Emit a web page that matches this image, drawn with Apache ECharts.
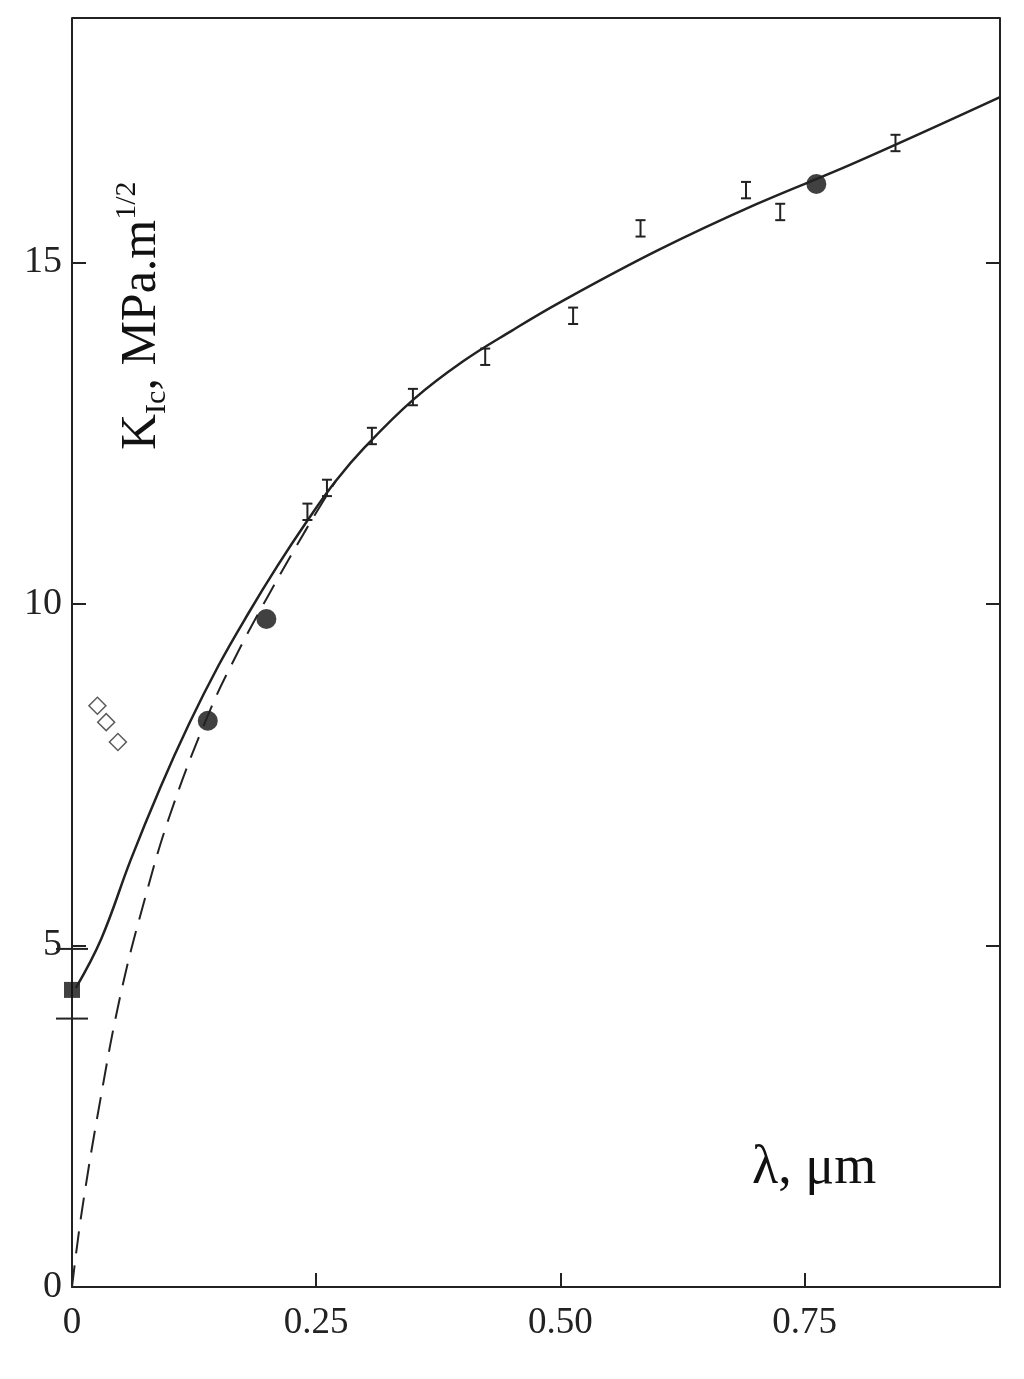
<!DOCTYPE html><html><head><meta charset="utf-8"><script src="https://cdn.jsdelivr.net/npm/echarts@6/dist/echarts.min.js"></script>
<style>html,body{margin:0;background:#fff}#c{width:1024px;height:1379px}</style></head><body><div id="c"></div><script>
const xTicks=[0,0.25,0.5,0.75];
const yTicks=[0,5,10,15];
const solidCurve=[[0.004,4.38],[0.03,5.1],[0.06,6.25],[0.09,7.3],[0.12,8.25],[0.15,9.1],[0.18,9.85],[0.21,10.55],[0.24,11.2],[0.27,11.8],[0.30,12.3],[0.35,13.0],[0.40,13.55],[0.45,14.0],[0.50,14.42],[0.60,15.18],[0.70,15.85],[0.80,16.45],[0.95,17.42]];
const dashedCurve=[[0,0],[0.01,1.1],[0.029,2.74],[0.05,4.3],[0.073,5.6],[0.10,6.9],[0.14,8.4],[0.17,9.3],[0.20,10.1],[0.24,11.1],[0.27,11.8]];
const squarePt=[[0.0,4.35]];
const squareErr=[[0.0,3.93,4.95]];
const openSquares=[[0.026,8.51],[0.035,8.27],[0.047,7.98]];
const circles=[[0.139,8.29],[0.199,9.78],[0.762,16.15]];
const errPts=[[0.241,11.35],[0.261,11.70],[0.307,12.46],[0.349,13.03],[0.423,13.62],[0.513,14.22],[0.582,15.5],[0.690,16.06],[0.725,15.74],[0.843,16.75]];
const errHalf=0.12;
const F='Liberation Serif';
const ch=echarts.init(document.getElementById('c'));
function errItem(p,api){const x=api.value(0),lo=api.value(1),hi=api.value(2);const a=api.coord([x,lo]),b=api.coord([x,hi]);const w=api.value(3);
return{type:'group',children:[{type:'line',shape:{x1:a[0],y1:a[1],x2:b[0],y2:b[1]},style:{stroke:'#222',lineWidth:2}},{type:'line',shape:{x1:a[0]-w,y1:a[1],x2:a[0]+w,y2:a[1]},style:{stroke:'#222',lineWidth:2}},{type:'line',shape:{x1:b[0]-w,y1:b[1],x2:b[0]+w,y2:b[1]},style:{stroke:'#222',lineWidth:2}}]};}
const eb=errPts.map(p=>[p[0],p[1]-errHalf,p[1]+errHalf,5]).concat(squareErr.map(p=>[p[0],p[1],p[2],16]));
ch.setOption({animation:false,
grid:{left:72,right:24,top:18,bottom:92},
xAxis:{type:'value',min:0,max:0.95,interval:0.25,axisLine:{lineStyle:{color:'#222',width:2}},axisTick:{inside:true,length:14,lineStyle:{color:'#222',width:2}},splitLine:{show:false},
 axisLabel:{fontFamily:F,fontSize:37,color:'#222',margin:18,showMaxLabel:false,formatter:v=>v===0?'0':v.toFixed(2)}},
yAxis:[{type:'value',min:0,max:18.58,interval:5,axisLine:{lineStyle:{color:'#222',width:2}},axisTick:{inside:true,length:14,lineStyle:{color:'#222',width:2}},splitLine:{show:false},
 axisLabel:{fontFamily:F,fontSize:38,color:'#222',margin:10,showMaxLabel:false}},
 {type:'value',position:'right',min:0,max:18.58,interval:5,axisLine:{show:true,lineStyle:{color:'#222',width:2}},axisTick:{inside:true,length:14,lineStyle:{color:'#222',width:2}},axisLabel:{show:false},splitLine:{show:false}}],
graphic:[{type:'line',shape:{x1:72,y1:18,x2:1000,y2:18},style:{stroke:'#222',lineWidth:2}},
 {type:'text',x:172,y:450,rotation:Math.PI/2,style:{rich:{a:{fontFamily:F,fontSize:50,fill:'#111'},s:{fontFamily:F,fontSize:30,fill:'#111',verticalAlign:'bottom'},u:{fontFamily:F,fontSize:30,fill:'#111',padding:[0,0,30,0]}},text:'{a|K}{s|Ic}{a|, MPa.m}{u|1/2}',verticalAlign:'bottom'}},
 {type:'text',x:752,y:1142,style:{text:'λ, μm',fontFamily:F,fontSize:54,fill:'#111'}}],
series:[
{type:'line',data:solidCurve,smooth:0.4,symbol:'none',lineStyle:{color:'#222',width:2.5}},
{type:'line',data:dashedCurve,smooth:0.4,symbol:'none',lineStyle:{color:'#222',width:2,type:[22,12]}},
{type:'custom',data:eb,renderItem:errItem},
{type:'scatter',data:squarePt,symbol:'rect',symbolSize:16,itemStyle:{color:'#111'}},
{type:'scatter',data:openSquares,symbol:'rect',symbolSize:12,symbolRotate:45,itemStyle:{color:'#fff',borderColor:'#333',borderWidth:1.5}},
{type:'scatter',data:circles,symbol:'circle',symbolSize:20,itemStyle:{color:'#111'}}
]});
</script></body></html>
